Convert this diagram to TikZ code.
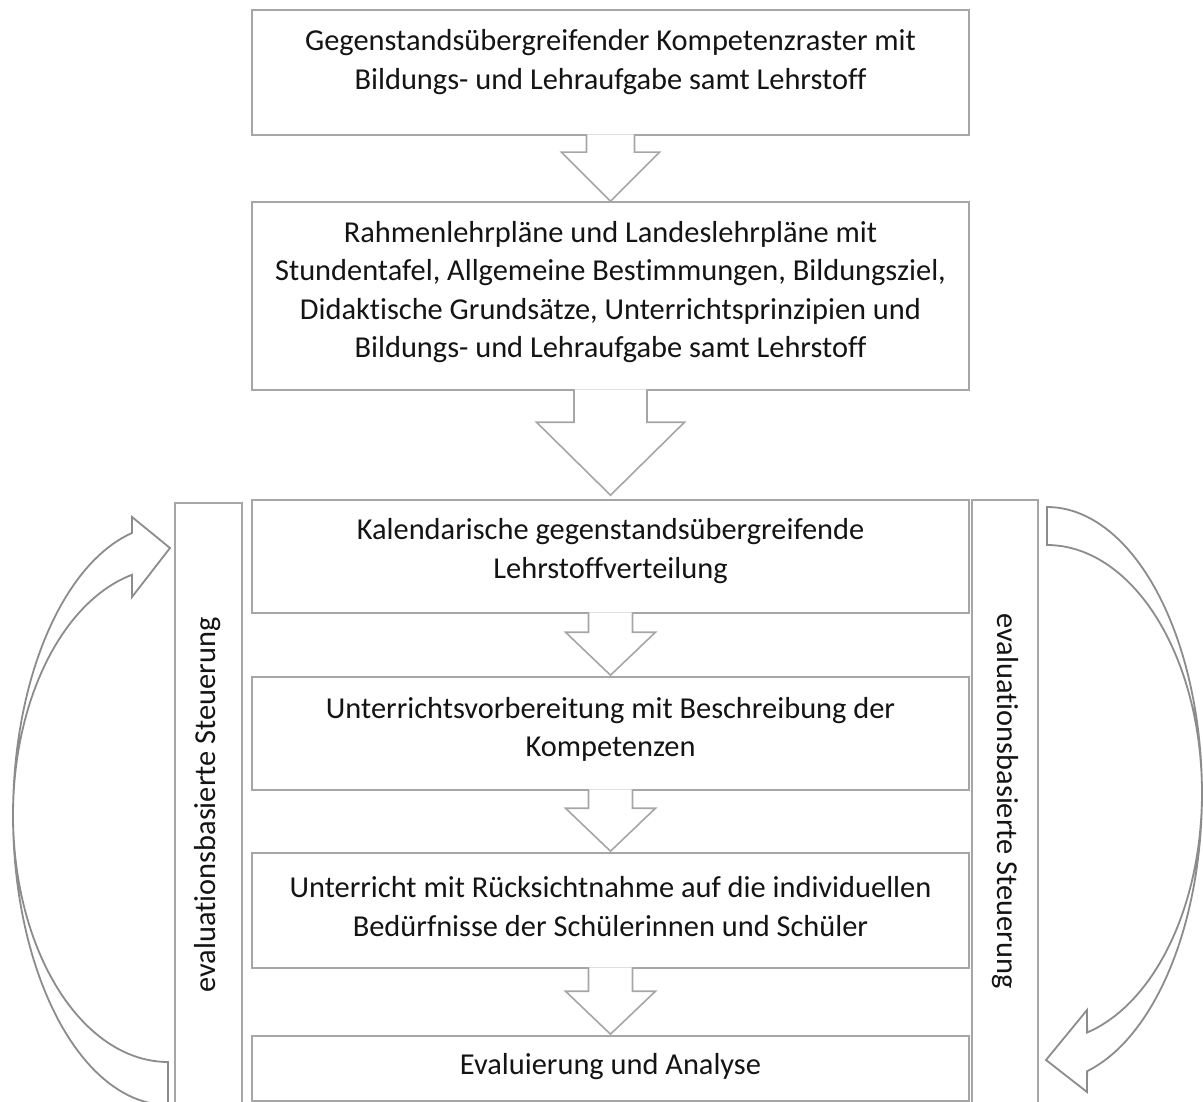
\documentclass[tikz,border=0pt]{standalone}
\usepackage{fontspec}
\setmainfont[Ligatures=NoCommon]{Carlito}
\usetikzlibrary{calc}
\definecolor{linegray}{RGB}{166,166,166}
\definecolor{arrowgray}{RGB}{140,140,140}
\definecolor{txt}{RGB}{20,20,20}
\tikzset{
  mainbox/.style={draw=linegray, line width=1.6pt, fill=white, minimum width=717pt, minimum height=#1, inner sep=0pt},
  sidebox/.style={draw=linegray, line width=1.6pt, fill=white, minimum width=#1, minimum height=604pt, inner sep=0pt},
  lbl/.style={text=txt, align=center, font=\fontsize{30.4}{38.5}\selectfont, inner sep=0pt},
  blockarrow/.style={draw=linegray, line width=1.6pt, fill=white, line join=miter},
  curvarrow/.style={draw=arrowgray, line width=1.8pt, fill=white, line join=miter}
}
\newcommand{\blkarrow}[6]{%
  \draw[blockarrow] ($(#1.south)+(-#3,-1.5)$) -- ($(#2.north)+(-#3,-#5-#6)$) -- ($(#2.north)+(-#4,-#5-#6)$)
   -- ($(#2.north)+(0,-#6)$) -- ($(#2.north)+(#4,-#5-#6)$) -- ($(#2.north)+(#3,-#5-#6)$) -- ($(#1.south)+(#3,-1.5)$);}
\begin{document}
\begin{tikzpicture}[x=1pt,y=-1pt]
\useasboundingbox (0,0) rectangle (1203,1102);
\clip (0,0) rectangle (1203,1102);
\fill[white] (0,0) rectangle (1203,1102);

% side boxes
\node[sidebox=67pt] (sl) at (208.5,805) {};
\node[sidebox=66pt] (sr) at (1005,802) {};
\node[lbl, rotate=90] (tl) at (208,805) {evaluationsbasierte Steuerung};
\node[lbl, rotate=-90] (tr) at (1005,801) {evaluationsbasierte Steuerung};

% main boxes
\node[mainbox=125pt] (b1) at (610.5,72.5) {};
\node[mainbox=188pt] (b2) at (610.5,296) {};
\node[mainbox=113pt] (b3) at (610.5,556.5) {};
\node[mainbox=113pt] (b4) at (610.5,733.5) {};
\node[mainbox=115pt] (b5) at (610.5,910.5) {};
\node[mainbox=65pt] (b6) at (610.5,1068.5) {};

\node[lbl] (t1) at (610.5,62) {Gegenstandsübergreifender Kompetenzraster mit\\Bildungs- und Lehraufgabe samt Lehrstoff};
\node[lbl] (t2) at (610.5,292) {Rahmenlehrpläne und Landeslehrpläne mit\\Stundentafel, Allgemeine Bestimmungen, Bildungsziel,\\Didaktische Grundsätze, Unterrichtsprinzipien und\\Bildungs- und Lehraufgabe samt Lehrstoff};
\node[lbl] (t3) at (610.5,551) {Kalendarische gegenstandsübergreifende\\Lehrstoffverteilung};
\node[lbl] (t4) at (610.5,729.5) {Unterrichtsvorbereitung mit Beschreibung der\\Kompetenzen};
\node[lbl] (t5) at (610.5,906.5) {Unterricht mit Rücksichtnahme auf die individuellen\\Bedürfnisse der Schülerinnen und Schüler};
\node[lbl] (t6) at (610.5,1067) {Evaluierung und Analyse};

% block arrows
\blkarrow{b1}{b2}{24}{49}{49}{0}
\blkarrow{b2}{b3}{36.5}{74}{73}{4}
\blkarrow{b3}{b4}{22}{45}{43}{1}
\blkarrow{b4}{b5}{22}{45}{43}{1}
\blkarrow{b5}{b6}{22}{45}{43}{1}

% curved arrows
\draw[curvarrow] plot[domain=103.4:270, samples=90] ({168+155*cos(\x)},{815-290*sin(\x)})
  -- (168,1062)
  -- plot[domain=270:103.4, samples=90] ({168+155*cos(\x)},{815-247*sin(\x)})
  -- (132,597) -- (170,548) -- (132,517) -- cycle;
\draw[curvarrow] plot[domain=90:-75, samples=90] ({1047+155*cos(\x)},{794-287*sin(\x)})
  -- (1087,1092) -- (1046,1060) -- (1087,1010)
  -- plot[domain=-75:90, samples=90] ({1047+155*cos(\x)},{793-248*sin(\x)}) -- cycle;
\end{tikzpicture}
\end{document}
